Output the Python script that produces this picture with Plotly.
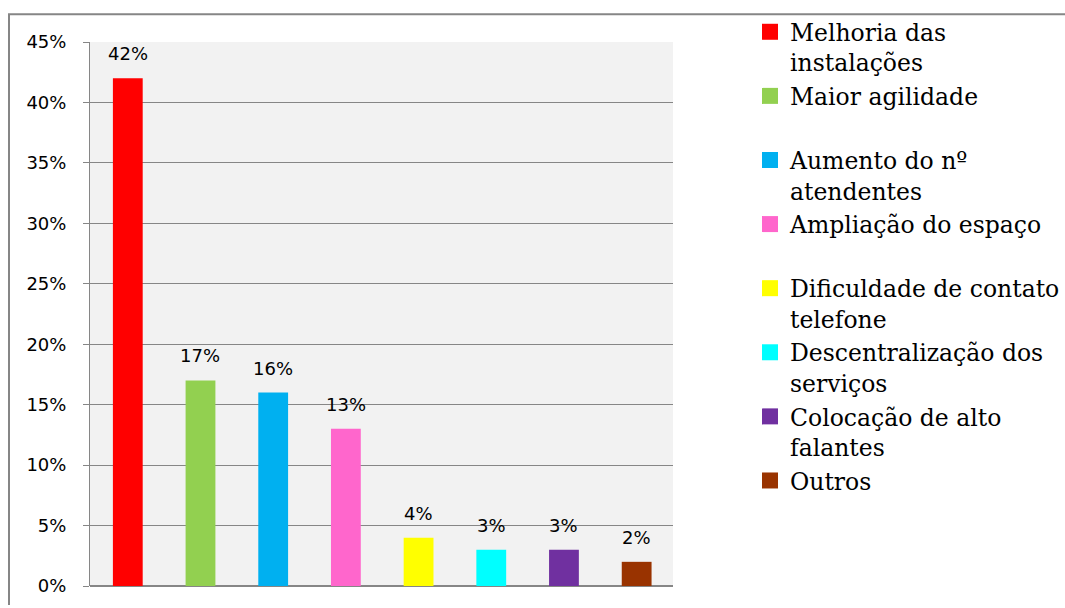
import plotly.graph_objects as go

# Survey answers: suggested improvements (share of respondents)
categories = [
    "Melhoria das instalações",
    "Maior agilidade",
    "Aumento do nº atendentes",
    "Ampliação do espaço",
    "Dificuldade de contato telefone",
    "Descentralização dos serviços",
    "Colocação de alto falantes",
    "Outros",
]
legend_labels = [
    "Melhoria das<br>instalações",
    "Maior agilidade<br>\u00a0",
    "Aumento do nº<br>atendentes",
    "Ampliação do espaço<br>\u00a0",
    "Dificuldade de contato<br>telefone",
    "Descentralização dos<br>serviços",
    "Colocação de alto<br>falantes",
    "Outros",
]
shares = [0.42, 0.17, 0.16, 0.13, 0.04, 0.03, 0.03, 0.02]
colors = ["#FF0000", "#92D050", "#00B0F0", "#FF66CC",
          "#FFFF00", "#00FFFF", "#7030A0", "#993300"]
y_ticks = [0, 0.05, 0.10, 0.15, 0.20, 0.25, 0.30, 0.35, 0.40, 0.45]

W, H = 1065, 608
L, R, T, B = 90, 392, 42, 19
pw, ph = W - L - R, H - T - B

sans = "DejaVu Sans"
serif = "DejaVu Serif"

fig = go.Figure()
for i, (cat, lab, val, col) in enumerate(zip(categories, legend_labels, shares, colors)):
    grp = f"g{i}"
    fig.add_trace(go.Bar(
        x=[cat], y=[val], name=lab, width=0.41, legendgroup=grp,
        showlegend=False,
        marker=dict(color=col, line=dict(width=0)),
        hoverinfo="skip",
    ))
    # legend key: larger square swatch
    fig.add_trace(go.Scatter(
        x=[None], y=[None], mode="markers", name=lab, legendgroup=grp,
        marker=dict(symbol="square", size=16, color=col, line=dict(width=0)),
        hoverinfo="skip",
    ))
    fig.add_annotation(
        x=cat, y=val, text=f"{val:.0%}", showarrow=False,
        yanchor="bottom", yshift=12,
        font=dict(family=sans, size=18, color="#000000"),
    )

# outer chart frame: top and left edges
def px_x(p):
    return (p - L) / pw

def px_y(p):
    return (H - B - p) / ph

frame = dict(color="#868686", width=2)
fig.add_shape(type="line", xref="paper", yref="paper", layer="below",
              x0=px_x(8), x1=px_x(1065), y0=px_y(14), y1=px_y(14), line=frame)
fig.add_shape(type="line", xref="paper", yref="paper", layer="below",
              x0=px_x(9), x1=px_x(9), y0=px_y(14), y1=px_y(608), line=frame)

fig.update_layout(
    width=W, height=H,
    margin=dict(l=L, r=R, t=T, b=B, pad=0),
    paper_bgcolor="#FFFFFF",
    plot_bgcolor="#F2F2F2",
    barmode="overlay",
    showlegend=True,
    legend=dict(
        xref="container", yref="container",
        x=750 / W, y=1 - 10 / H, xanchor="left", yanchor="top",
        font=dict(family=serif, size=23.5, color="#000000"),
        valign="top", tracegroupgap=0, maxheight=1000,
        bgcolor="rgba(0,0,0,0)", borderwidth=0,
    ),
    xaxis=dict(
        categoryorder="array", categoryarray=categories,
        range=[-0.52, 7.5], showticklabels=False, showgrid=False,
        zeroline=False, showline=False, ticks="",
    ),
    yaxis=dict(
        range=[0, 0.45], tickvals=y_ticks, tickformat=".0%",
        showgrid=True, gridcolor="#868686", gridwidth=1,
        zeroline=True, zerolinecolor="#868686", zerolinewidth=2,
        showline=True, linecolor="#868686", linewidth=1,
        ticks="outside", ticklen=6, tickcolor="#868686",
        tickfont=dict(family=sans, size=18, color="#000000"),
        ticklabelstandoff=13,
    ),
)

fig.write_html("out.html", config={"displayModeBar": False})
